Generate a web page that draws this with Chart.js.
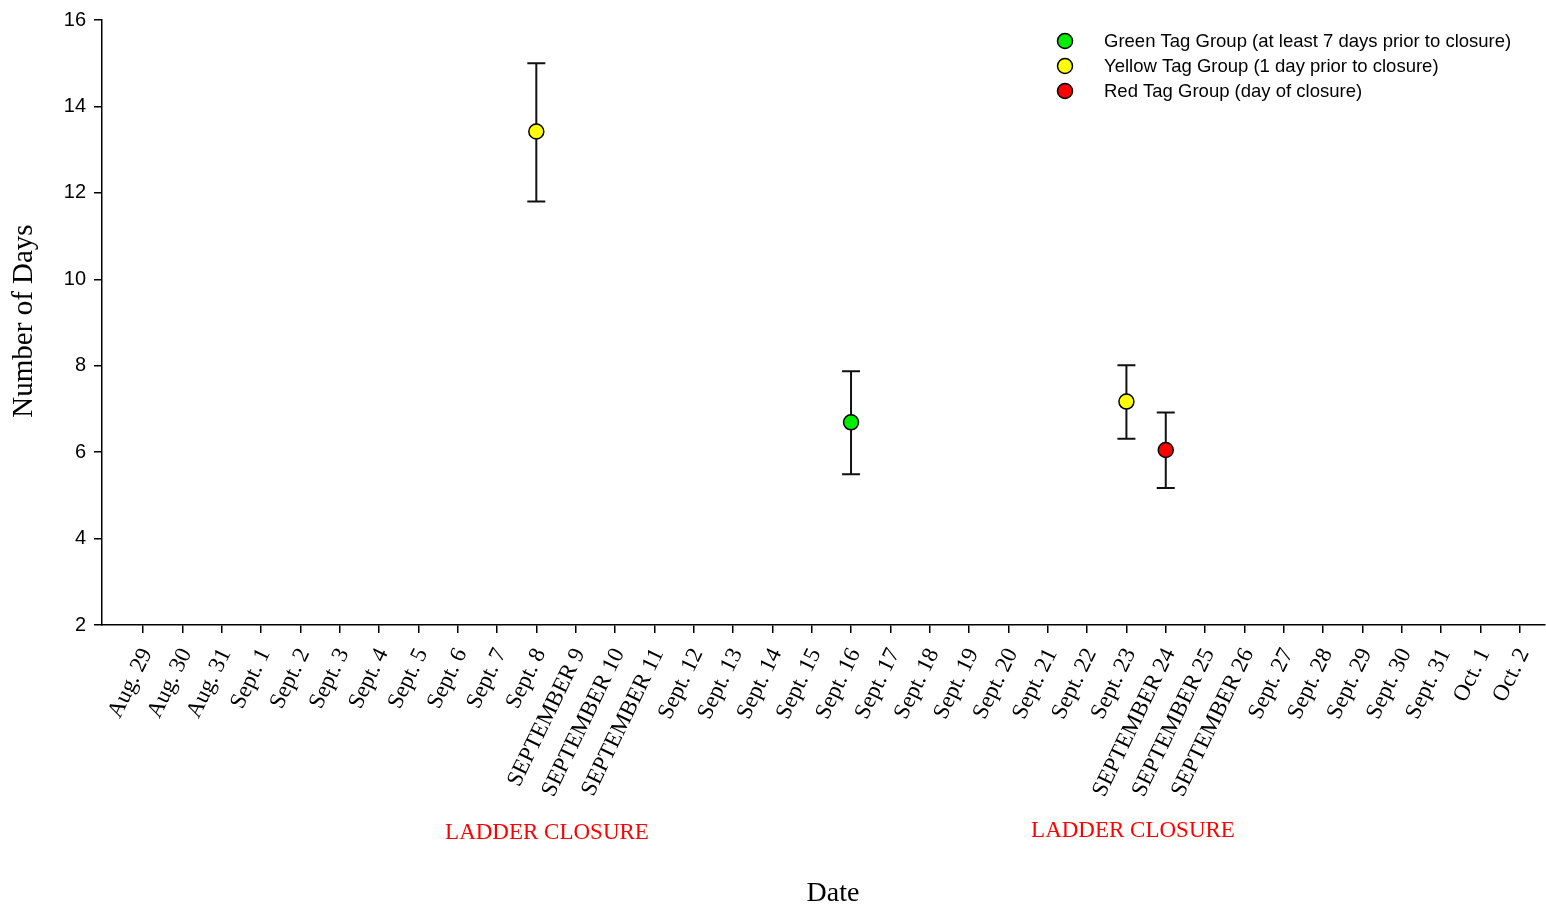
<!DOCTYPE html>
<html>
<head>
<meta charset="utf-8">
<script src="https://cdn.jsdelivr.net/npm/chart.js@4.4.1/dist/chart.umd.min.js"></script>
<style>
html,body{margin:0;padding:0;background:#fff;overflow:hidden;}
#wrap{width:1546px;height:909px;position:relative;}
canvas{display:block;}
</style>
</head>
<body>
<div id="wrap"><canvas id="c"></canvas></div>
<script>
const dates = ['Aug. 29','Aug. 30','Aug. 31','Sept. 1','Sept. 2','Sept. 3','Sept. 4','Sept. 5','Sept. 6','Sept. 7','Sept. 8','SEPTEMBER 9','SEPTEMBER 10','SEPTEMBER 11','Sept. 12','Sept. 13','Sept. 14','Sept. 15','Sept. 16','Sept. 17','Sept. 18','Sept. 19','Sept. 20','Sept. 21','Sept. 22','Sept. 23','SEPTEMBER 24','SEPTEMBER 25','SEPTEMBER 26','Sept. 27','Sept. 28','Sept. 29','Sept. 30','Sept. 31','Oct. 1','Oct. 2'];
const yTicks = [2,4,6,8,10,12,14,16];

const greenDates = ['Sept. 16'];
const greenMean = [6.69];
const greenLow = [5.49];
const greenHigh = [7.87];

const yellowDates = ['Sept. 8','Sept. 23'];
const yellowMean = [13.42,7.17];
const yellowLow = [11.80,6.31];
const yellowHigh = [15.00,8.01];

const redDates = ['SEPTEMBER 24'];
const redMean = [6.05];
const redLow = [5.17];
const redHigh = [6.92];

const seriesLabels = ['Green Tag Group (at least 7 days prior to closure)','Yellow Tag Group (1 day prior to closure)','Red Tag Group (day of closure)'];
const closureLabels = ['LADDER CLOSURE','LADDER CLOSURE'];

function pts(d, m){ return d.map((s,i)=>({x:dates.indexOf(s), y:m[i]})); }

const colors = ['#00ee00','#ffff00','#ff0000'];
const errs = [[greenLow,greenHigh],[yellowLow,yellowHigh],[redLow,redHigh]];

const extras = {
  id:'extras',
  beforeDatasetsDraw(chart){
    const ctx = chart.ctx, xs = chart.scales.x, ys = chart.scales.y;
    ctx.save();
    ctx.strokeStyle = '#111';
    ctx.lineWidth = 2;
    chart.data.datasets.forEach((ds,di)=>{
      ds.data.forEach((p,i)=>{
        const x = xs.getPixelForValue(p.x);
        const yl = ys.getPixelForValue(errs[di][0][i]);
        const yh = ys.getPixelForValue(errs[di][1][i]);
        ctx.beginPath();
        ctx.moveTo(x,yl); ctx.lineTo(x,yh);
        ctx.moveTo(x-9,yl); ctx.lineTo(x+9,yl);
        ctx.moveTo(x-9,yh); ctx.lineTo(x+9,yh);
        ctx.stroke();
      });
    });
    ctx.restore();
  },
  afterDraw(chart){
    const ctx = chart.ctx;
    ctx.save();
    // legend
    ctx.font = '18.5px "Liberation Sans", Arial, sans-serif';
    ctx.textBaseline = 'middle';
    ctx.textAlign = 'left';
    seriesLabels.forEach((t,i)=>{
      const y = 41 + i*25;
      ctx.beginPath();
      ctx.arc(1065, y, 7.5, 0, Math.PI*2);
      ctx.fillStyle = colors[i];
      ctx.fill();
      ctx.lineWidth = 1.5;
      ctx.strokeStyle = '#000';
      ctx.stroke();
      ctx.fillStyle = '#000';
      ctx.fillText(t, 1104, y+1);
    });
    // titles
    ctx.font = '28px "Liberation Serif", "Times New Roman", serif';
    ctx.textAlign = 'center';
    ctx.fillStyle = '#000';
    ctx.fillText('Date', 833, 894);
    ctx.save();
    ctx.translate(24, 321);
    ctx.rotate(-Math.PI/2);
    ctx.font = '29px "Liberation Serif", "Times New Roman", serif';
    ctx.fillText('Number of Days', 0, 0);
    ctx.restore();
    // closure labels
    ctx.font = '23px "Liberation Serif", "Times New Roman", serif';
    ctx.fillStyle = '#ff0000';
    ctx.fillText(closureLabels[0], 547, 833);
    ctx.fillText(closureLabels[1], 1133, 831);
    ctx.restore();
  }
};

new Chart(document.getElementById('c'), {
  type:'scatter',
  data:{
    datasets:[
      {label:seriesLabels[0], data:pts(greenDates,greenMean), backgroundColor:colors[0]},
      {label:seriesLabels[1], data:pts(yellowDates,yellowMean), backgroundColor:colors[1]},
      {label:seriesLabels[2], data:pts(redDates,redMean), backgroundColor:colors[2]}
    ].map(d=>Object.assign(d,{borderColor:'#000',borderWidth:1.5,pointRadius:7.5,pointHoverRadius:7.5}))
  },
  options:{
    responsive:true,
    maintainAspectRatio:false,
    animation:false,
    events:[],
    layout:{autoPadding:false,padding:{top:19,right:1,left:0,bottom:0}},
    plugins:{legend:{display:false},tooltip:{enabled:false}},
    scales:{
      x:{
        type:'linear',
        min:-1.04, max:35.64,
        afterBuildTicks(s){ s.ticks = dates.map((d,i)=>({value:i})); },
        afterFit(s){ s.height = 284; s.paddingLeft = 0; s.paddingRight = 0; },
        grid:{display:true,drawOnChartArea:false,drawTicks:true,tickLength:8,color:'#000',lineWidth:1.5},
        border:{display:true,color:'#000',width:1.5},
        ticks:{
          autoSkip:false,
          maxRotation:64,minRotation:64,
          padding:11,
          labelOffset:4,
          color:'#000',
          font:{family:'"Liberation Serif", "Times New Roman", serif',size:23},
          callback:(v)=>dates[v]
        }
      },
      y:{
        min:2,max:16,
        afterBuildTicks(s){ s.ticks = yTicks.map(v=>({value:v})); },
        afterFit(s){ s.width = 102; },
        grid:{display:true,drawOnChartArea:false,drawTicks:true,tickLength:8,color:'#000',lineWidth:1.5},
        border:{display:true,color:'#000',width:1.5},
        ticks:{
          padding:8,
          color:'#000',
          font:{family:'"Liberation Sans", Arial, sans-serif',size:20}
        }
      }
    }
  },
  plugins:[extras]
});
</script>
</body>
</html>
